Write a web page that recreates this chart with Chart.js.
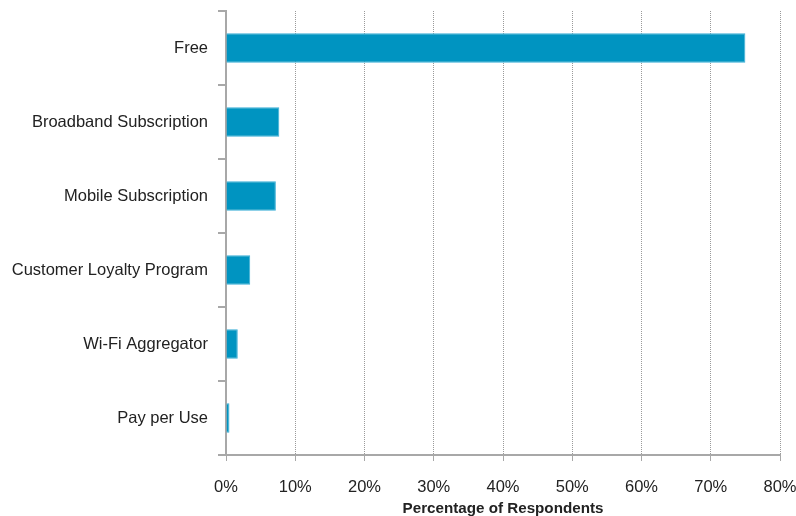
<!DOCTYPE html>
<html>
<head>
<meta charset="utf-8">
<script src="https://cdn.jsdelivr.net/npm/chart.js@4/dist/chart.umd.min.js"></script>
<style>
  html,body{margin:0;padding:0;background:#fff;}
  #wrap{width:796px;height:516px;position:relative;}
</style>
</head>
<body>
<div id="wrap"><canvas id="c" width="796" height="516"></canvas></div>
<script>
const categories = ["Free", "Broadband Subscription", "Mobile Subscription", "Customer Loyalty Program", "Wi-Fi Aggregator", "Pay per Use"];
const shares = [75.0, 7.7, 7.2, 3.5, 1.7, 0.5];
const xTicks = [0, 10, 20, 30, 40, 50, 60, 70, 80];
const xTitle = "Percentage of Respondents";

const FONT = "'Liberation Sans', Arial, sans-serif";
function zeroPad(s) { s.paddingTop = 0; s.paddingBottom = 0; s.paddingLeft = 0; s.paddingRight = 0; }
new Chart(document.getElementById('c'), {
  type: 'bar',
  data: {
    labels: categories,
    datasets: [{
      data: shares,
      backgroundColor: '#0094c1',
      borderColor: '#3aaed6',
      borderWidth: 1,
      barPercentage: 0.4,
      categoryPercentage: 1.0
    }]
  },
  options: {
    indexAxis: 'y',
    responsive: false,
    animation: false,
    layout: { padding: { left: 0, top: 11, right: 16, bottom: 0 } },
    plugins: { legend: { display: false }, tooltip: { enabled: false } },
    scales: {
      x: {
        min: 0, max: 80,
        afterBuildTicks: (s) => { s.ticks = xTicks.map(v => ({ value: v })); },
        afterFit: (s) => { s.height = 61; zeroPad(s); },
        ticks: {
          callback: (v) => v + '%',
          font: { family: FONT, size: 16.5 },
          color: '#222',
          padding: 17,
          maxRotation: 0,
          autoSkip: false
        },
        grid: {
          color: '#9a9a9a',
          lineWidth: 1,
          tickLength: 6,
          tickColor: '#a8a8a8',
          tickBorderDash: []
        },
        border: { display: true, color: '#a8a8a8', width: 2, dash: [1, 1] },
        title: {
          display: true,
          text: xTitle,
          font: { family: FONT, size: 15.2, weight: 'bold', lineHeight: 0.95 },
          color: '#222',
          padding: { top: 0, bottom: 0 }
        }
      },
      y: {
        afterFit: (s) => { s.width = 226; zeroPad(s); },
        ticks: {
          font: { family: FONT, size: 16.5 },
          color: '#222',
          padding: 10
        },
        grid: {
          offset: true,
          drawOnChartArea: false,
          color: '#a8a8a8',
          lineWidth: 2,
          tickLength: 8
        },
        border: { display: true, color: '#a8a8a8', width: 2 }
      }
    }
  }
});
</script>
</body>
</html>
